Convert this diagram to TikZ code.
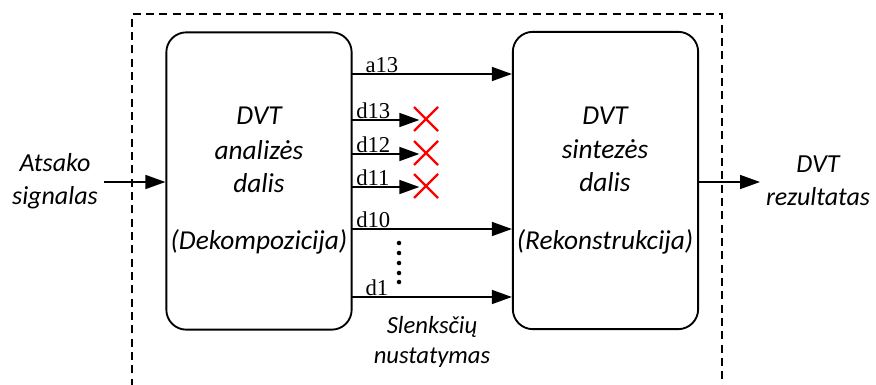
\documentclass[tikz,border=0pt]{standalone}
\usepackage{fontspec}
\setmainfont{Carlito}
\newfontfamily\lblfont{Liberation Serif}
\usetikzlibrary{arrows.meta}
\begin{document}
\begin{tikzpicture}[x=0.75pt,y=-0.75pt,
  blk/.style={draw, line width=1.4pt, rounded corners=15pt, minimum width=139pt, minimum height=223pt, inner sep=0pt},
  sig/.style={line width=1.2pt, -{Triangle[length=15pt,width=10.5pt]}},
  ctext/.style={font=\fontsize{20.5}{25}\selectfont\itshape, align=center},
  lbl/.style={font=\lblfont\fontsize{17}{19}\selectfont, anchor=south west, inner sep=1pt},
  cross/.style={draw=red, line width=1.7pt}]
\useasboundingbox (0,0) rectangle (876,385);
\begin{scope}
  \clip (0,0) rectangle (876,385);
  \draw[line width=1.1pt, dash pattern=on 6pt off 4pt] (132,400) |- (722,14) -- (722,400);
\end{scope}

% decomposition and reconstruction blocks
\node[blk] (ana) at (259,181) {};
\node[blk] (syn) at (605.5,180.5) {};

\node[ctext] at (259,116) {DVT};
\node[ctext] at (259,150) {analizės};
\node[ctext] at (259,183) {dalis};
\node[ctext] at (259,242) {(Dekompozicija)};
\node[ctext] at (605,116) {DVT};
\node[ctext] at (605,149) {sintezės};
\node[ctext] at (605,182) {dalis};
\node[ctext] at (605,242) {(Rekonstrukcija)};

% input and output
\node[ctext, font=\fontsize{19.5}{24}\selectfont\itshape] (in) at (55,181) {Atsako\\[1pt]signalas};
\node[ctext, font=\fontsize{19.5}{24}\selectfont\itshape] (out) at (818,181) {DVT\\[1pt]rezultatas};
\coordinate (inS) at (104,182);
\coordinate (outE) at (760,182);
\draw[sig] (inS) -- (inS -| ana.west);
\draw[sig] (syn.east |- outE) -- (outE);

% coefficient channels
\coordinate (a13) at (352,74);
\coordinate (d13) at (352,120);
\coordinate (d12) at (352,154);
\coordinate (d11) at (352,187);
\coordinate (d10) at (352,229);
\coordinate (d1) at (352,297);
\coordinate (c13) at (426,119);
\coordinate (c12) at (426,153);
\coordinate (c11) at (426,186);

\draw[sig] (a13) -- (a13 -| syn.west);
\draw[sig] (d10) -- (d10 -| syn.west);
\draw[sig] (d1) -- (d1 -| syn.west);
\foreach \c in {13,12,11}{
  \draw[sig] (d\c) -- ([xshift=-5]c\c |- d\c);
  \draw[cross] ([shift={(-12,-12)}]c\c) -- ([shift={(12,12)}]c\c)
               ([shift={(-12,12)}]c\c) -- ([shift={(12,-12)}]c\c);
}
\node[lbl] at (a13) [xshift=9] {a13};
\node[lbl] at (d13) [xshift=2] {d13};
\node[lbl] at (d12) [xshift=2] {d12};
\node[lbl] at (d11) [xshift=2] {d11};
\node[lbl] at (d10) [xshift=2] {d10};
\node[lbl] at (d1) [xshift=9] {d1};

\foreach \y in {243,253,263,273,282}
  \fill (399,\y) circle (1.7pt);

\node[ctext, font=\fontsize{18.5}{23}\selectfont\itshape] at (432,342) {Slenksčių\\nustatymas};
\end{tikzpicture}
\end{document}
